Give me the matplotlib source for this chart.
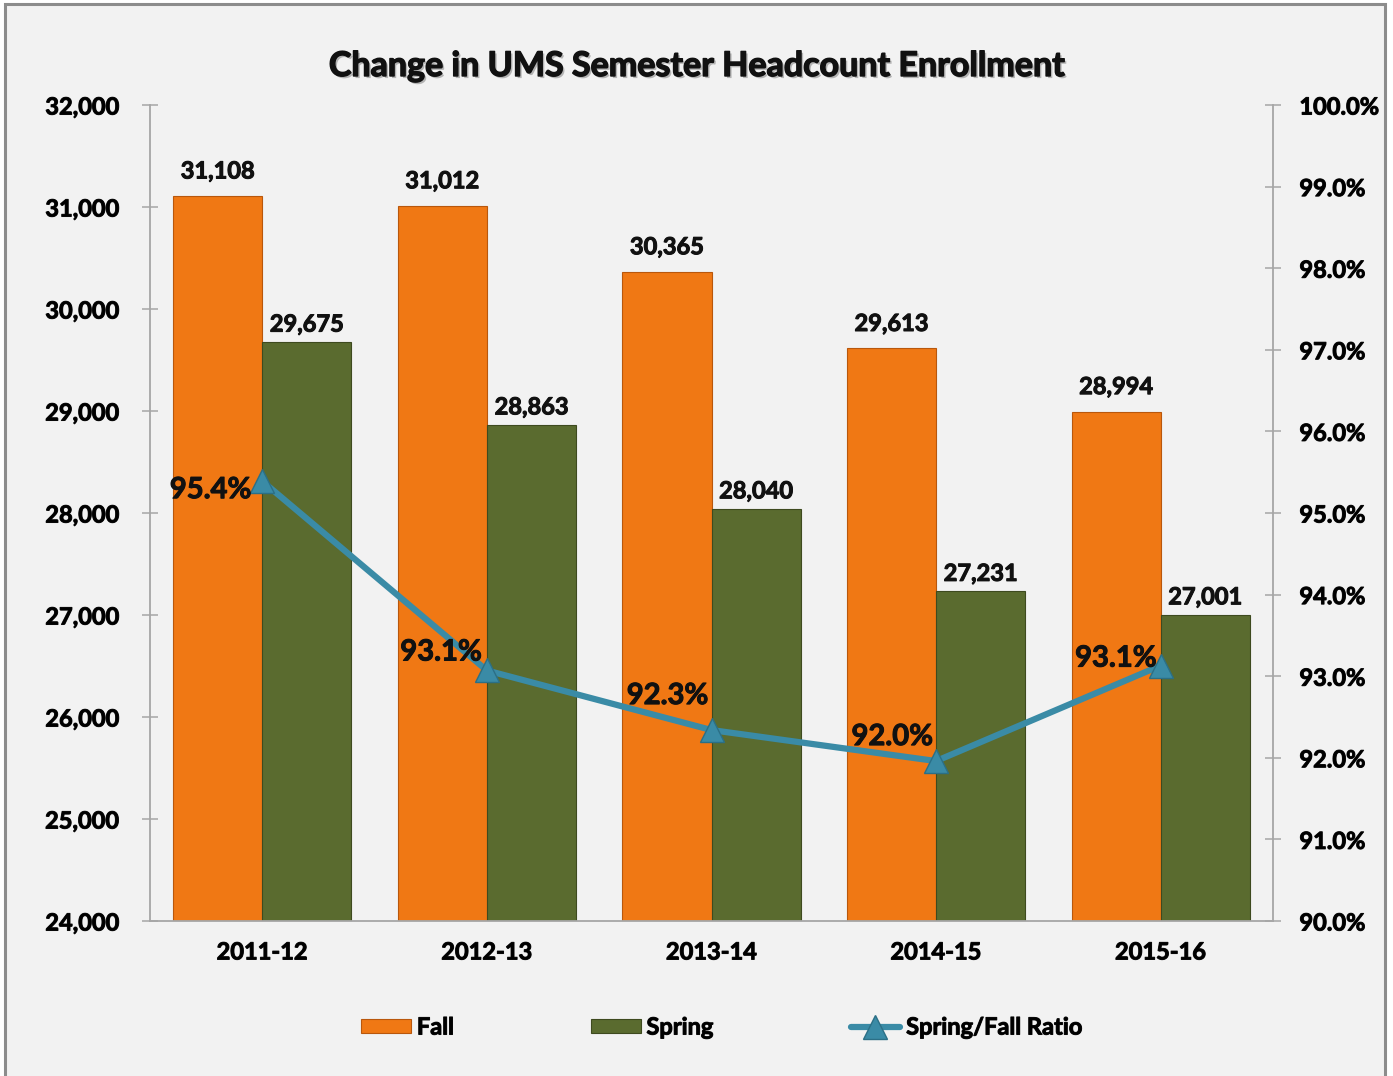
import numpy as np
import matplotlib
matplotlib.use("Agg")
import matplotlib.pyplot as plt
import matplotlib.patheffects as pe
from matplotlib.patches import Rectangle
from matplotlib.ticker import FuncFormatter, MultipleLocator

# data
years = ["2011-12", "2012-13", "2013-14", "2014-15", "2015-16"]
fall = [31108, 31012, 30365, 29613, 28994]
spring = [29675, 28863, 28040, 27231, 27001]
ratio = [95.39, 93.07, 92.34, 91.96, 93.13]
ratio_labels = ["95.4%", "93.1%", "92.3%", "92.0%", "93.1%"]

# label nudges (pixels) for the ratio labels, relative to the marker
ratio_label_dx = [-11, -5, -3, -3, -4]
ratio_label_dy = [-9, 18, 34, 24, 7]

plt.rcParams['font.family'] = ['Lato', 'DejaVu Sans']
plt.rcParams['font.weight'] = 'bold'

orange = '#F07814'
green = '#5A6B2F'
teal = '#3A8BA6'
axis_gray = '#A6A6A6'
txt = '#111111'

# fake the heavy Calibri weight with a thin stroke
bold = [pe.withStroke(linewidth=0.75, foreground=txt)]
fs = 17

W, H = 1393, 1076
fig = plt.figure(figsize=(W / 100, H / 100), dpi=100)
fig.patch.set_facecolor('white')
fig.patches.append(Rectangle((5 / W, -0.02), 1380 / W, 1.02 - 4 / H,
                             transform=fig.transFigure, facecolor='#F2F2F2',
                             edgecolor='#8C8C8C', linewidth=2.2, zorder=-10))

ax = fig.add_axes([150 / W, 1 - 921 / H, 1123 / W, 816 / H])
ax.set_facecolor('none')

x = np.arange(len(years))
bw = 0.397
fall_bars = ax.bar(x - bw / 2, [v - 24000 for v in fall], bw, bottom=24000,
                   color=orange, edgecolor='#B9570C', linewidth=0.8, label='Fall', zorder=2)
spring_bars = ax.bar(x + bw / 2, [v - 24000 for v in spring], bw, bottom=24000,
                     color=green, edgecolor='#3E4A1F', linewidth=0.8, label='Spring', zorder=2)

for xi, v in zip(x, fall):
    ax.annotate(f"{v:,}", (xi - bw / 2, v), xytext=(0, 18), textcoords='offset points',
                ha='center', va='center', fontsize=fs, color=txt, path_effects=bold)
for xi, v in zip(x, spring):
    ax.annotate(f"{v:,}", (xi + bw / 2, v), xytext=(0, 13), textcoords='offset points',
                ha='center', va='center', fontsize=fs, color=txt, path_effects=bold)

ax.set_xlim(-0.5, len(years) - 0.5)
ax.set_ylim(24000, 32000)
ax.yaxis.set_major_locator(MultipleLocator(1000))
ax.yaxis.set_major_formatter(FuncFormatter(lambda v, p: f"{int(v):,}"))
ax.set_xticks(x)
ax.set_xticklabels(years)
ax.tick_params(axis='x', length=0, pad=14, labelsize=fs)
ax.tick_params(axis='y', direction='inout', length=12, width=1.1, color=axis_gray,
               pad=16, labelsize=fs)
for lbl in ax.get_xticklabels() + ax.get_yticklabels():
    lbl.set_path_effects(bold)
for s in ['top', 'right']:
    ax.spines[s].set_visible(False)
for s in ['left', 'bottom']:
    ax.spines[s].set_color(axis_gray)
    ax.spines[s].set_linewidth(1.3)

ax2 = ax.twinx()
ax2.set_ylim(90, 100)
ax2.yaxis.set_major_locator(MultipleLocator(1))
ax2.yaxis.set_major_formatter(FuncFormatter(lambda v, p: f"{v:.1f}%"))
ax2.tick_params(axis='y', direction='inout', length=12, width=1.1, color=axis_gray,
                pad=13, labelsize=fs)
for lbl in ax2.get_yticklabels():
    lbl.set_path_effects(bold)
for s in ['top', 'left', 'bottom']:
    ax2.spines[s].set_visible(False)
ax2.spines['right'].set_color(axis_gray)
ax2.spines['right'].set_linewidth(1.3)

line, = ax2.plot(x, ratio, color=teal, linewidth=4.5, marker='^', markersize=17,
                 markerfacecolor=teal, markeredgecolor='#2B6F86', markeredgewidth=1,
                 label='Spring/Fall Ratio', zorder=5, solid_capstyle='round')

for xi, r, t, dx, dy in zip(x, ratio, ratio_labels, ratio_label_dx, ratio_label_dy):
    ax2.annotate(t, (xi, r), xytext=(dx * 0.72, dy * 0.72), textcoords='offset points',
                 ha='right', va='center', fontsize=21, color=txt, zorder=6,
                 path_effects=bold)

fig.text(697 / W, 1 - 66 / H, "Change in UMS Semester Headcount Enrollment",
         ha='center', va='center', fontsize=24.5, color=txt,
         path_effects=[pe.SimplePatchShadow(offset=(1.5, -1.5), shadow_rgbFace='#777777', alpha=0.5),
                       pe.Stroke(linewidth=1.0, foreground=txt), pe.Normal()])

leg = fig.legend(handles=[fall_bars, spring_bars, line], labels=['Fall', 'Spring', 'Spring/Fall Ratio'],
                 loc='center', bbox_to_anchor=(722 / W, 1 - 1027 / H), ncol=3, frameon=False,
                 handlelength=2.1, handleheight=0.55, handletextpad=0.25,
                 columnspacing=5.8, prop={'weight': 'bold', 'size': fs})
for t in leg.get_texts():
    t.set_path_effects(bold)

fig.savefig('out.png', dpi=100, facecolor=fig.get_facecolor())
